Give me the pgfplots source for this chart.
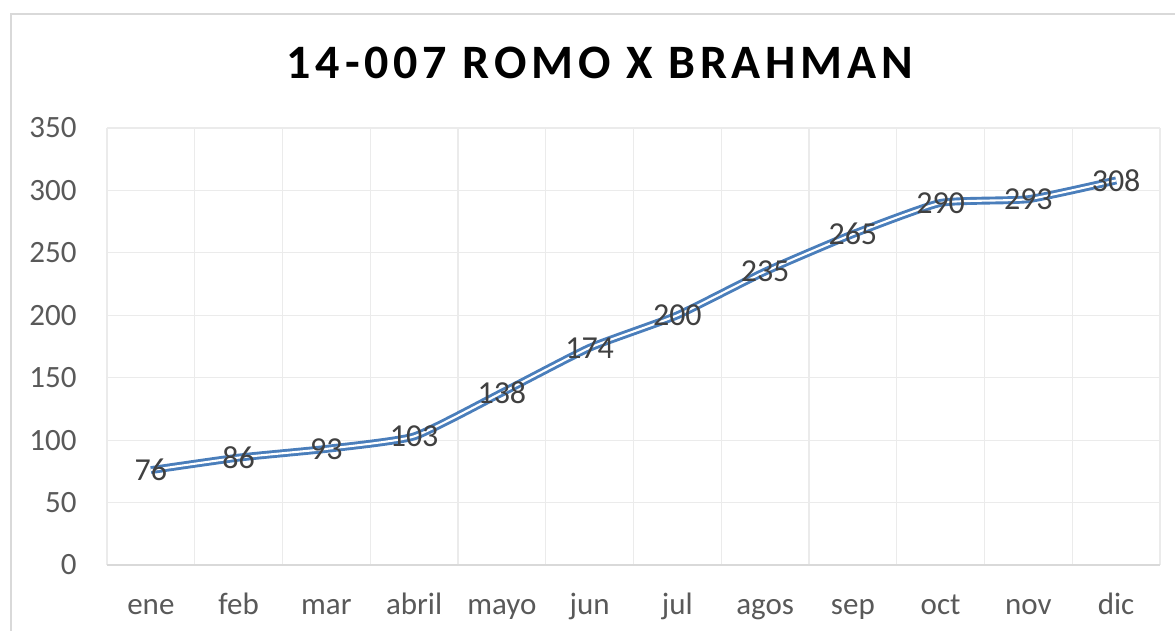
\documentclass[border=0pt]{standalone}
\usepackage{fontspec}
\setmainfont{Carlito}
\usepackage{pgfplots}
\pgfplotsset{compat=1.18}

\definecolor{lineblue}{HTML}{4A7EBB}
\definecolor{gridgray}{HTML}{EBEBEB}
\definecolor{axisgray}{HTML}{D9D9D9}
\definecolor{ticktext}{HTML}{595959}
\definecolor{labeltext}{HTML}{404040}

\begin{document}
\begin{tikzpicture}
\begin{axis}[
    scale only axis,
    width=526.5pt, height=218.5pt,
    xmin=-0.5, xmax=11.5,
    ymin=0, ymax=350,
    xtick={0,...,11},
    xticklabels={ene,feb,mar,abril,mayo,jun,jul,agos,sep,oct,nov,dic},
    minor xtick={-0.5,0.5,...,11.5},
    ytick={0,50,...,350},
    ymajorgrids, xminorgrids,
    major grid style={gridgray, line width=0.6pt},
    minor grid style={gridgray, line width=0.6pt},
    major tick length=0pt, minor tick length=0pt,
    axis line style={draw=none},
    /pgf/number format/assume math mode=true,
    tick label style={font=\fontsize{15.5}{18}\selectfont, text=ticktext},
    yticklabel style={anchor=east, inner sep=0pt, xshift=-15pt},
    xticklabel style={anchor=base, inner sep=0pt, yshift=-25pt},
    title={\addfontfeatures{LetterSpace=10}14-007 ROMO X BRAHMAN},
    title style={at={(axis description cs:0.4682,1.121)}, anchor=center,
        font=\fontsize{24}{28}\bfseries\selectfont, text=black},
    clip=false,
    nodes near coords,
    every node near coord/.append style={anchor=center, inner sep=0pt,
        font=\fontsize{16}{18}\selectfont, text=labeltext},
]
\addplot[lineblue, line width=1.45pt, double=white, double distance=1.05pt,
    smooth, tension=0.3, mark=none] coordinates {
    (0,76) (1,86) (2,93) (3,103) (4,138) (5,174)
    (6,200) (7,235) (8,265) (9,290) (10,293) (11,308)
};
\draw[axisgray, line width=0.8pt] (rel axis cs:0,0) -- (rel axis cs:1,0);
\coordinate (sw) at (rel axis cs:0,0);
\end{axis}
\draw[axisgray, line width=0.8pt] ([shift={(-48pt,-60pt)}]sw) rectangle ([shift={(560pt,275.5pt)}]sw);
\pgfresetboundingbox
\useasboundingbox ([shift={(-53.5pt,-33pt)}]sw) rectangle ([shift={(534pt,282.5pt)}]sw);
\end{tikzpicture}
\end{document}
